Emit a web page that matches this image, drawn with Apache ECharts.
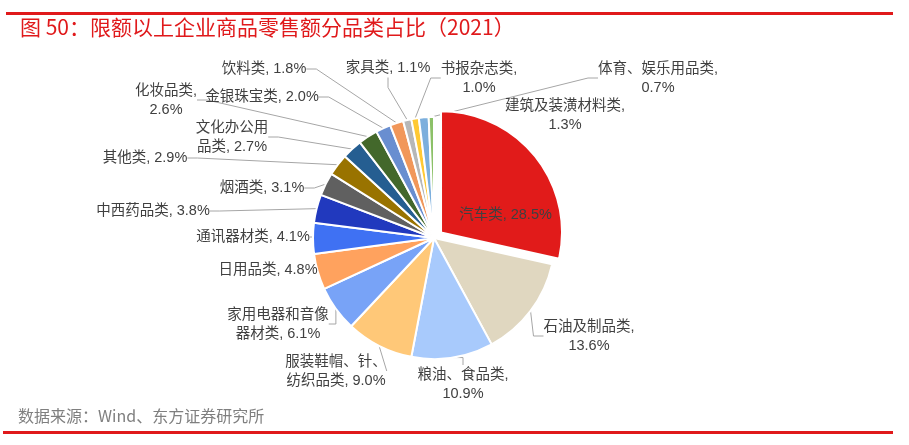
<!DOCTYPE html>
<html>
<head>
<meta charset="utf-8">
<script src="https://cdn.jsdelivr.net/npm/echarts@6/dist/echarts.min.js"></script>
<style>
  html, body { margin: 0; padding: 0; background: #fff; }
  #main { width: 909px; height: 445px; }
</style>
</head>
<body>
<div id="main"></div>
<script>
const chart = echarts.init(document.getElementById('main'));

// 品类与占比（%）
const categories = ['汽车类', '石油及制品类', '粮油、食品类', '服装鞋帽、针、纺织品类', '家用电器和音像器材类',
    '日用品类', '通讯器材类', '中西药品类', '烟酒类', '其他类', '文化办公用品类', '化妆品类',
    '金银珠宝类', '饮料类', '家具类', '书报杂志类', '建筑及装潢材料类', '体育、娱乐用品类'];
const shares = [28.5, 13.6, 10.9, 9.0, 6.1, 4.8, 4.1, 3.8, 3.1, 2.9, 2.7, 2.6, 2.0, 1.8, 1.1, 1.0, 1.3, 0.7];
// 标签换行
const labelTexts = ['汽车类, 28.5%', '石油及制品类,\n13.6%', '粮油、食品类,\n10.9%', '服装鞋帽、针、\n纺织品类, 9.0%',
    '家用电器和音像\n器材类, 6.1%', '日用品类, 4.8%', '通讯器材类, 4.1%', '中西药品类, 3.8%', '烟酒类, 3.1%',
    '其他类, 2.9%', '文化办公用\n品类, 2.7%', '化妆品类,\n2.6%', '金银珠宝类, 2.0%', '饮料类, 1.8%',
    '家具类, 1.1%', '书报杂志类,\n1.0%', '建筑及装潢材料类,\n1.3%', '体育、娱乐用品类,\n0.7%'];

const colors = ['#E11B1A', '#E0D7C0', '#A8CAFC', '#FFC878', '#78A3F7', '#FFA25E', '#3F71F3', '#2139BE',
    '#606060', '#997300', '#255E91', '#43682B', '#698ED0', '#F1975A', '#B7B7B7', '#FFC933', '#7CAFDD', '#8CC168'];

// 标签中心位置
const labelPos = [[502, 213], [589, 336], [463, 384], [336, 371], [278, 324], [268, 270], [253, 237],
    [153, 211], [262, 188], [145, 158], [232, 137], [166, 100], [262, 97], [264, 69], [388, 68],
    [479, 78], [565, 115], [658, 78]];

let pieData = [];
for (let i = 0; i < categories.length; i++) {
    let item = {
        name: categories[i],
        value: shares[i],
        itemStyle: { color: colors[i] }
    };
    if (i === 0) {
        // 汽车类扇区外移，标签放在扇区内
        item.selected = true;
        item.label = { position: 'inside', offset: [4, 30] };
        item.select = { label: { position: 'inside', offset: [4, 30] } };
        item.labelLine = { show: false };
    }
    if (i === 16) {
        item.labelLine = { show: false };
    }
    pieData.push(item);
}

option = {
    animation: false,
    title: {
        text: '图 50：限额以上企业商品零售额分品类占比（2021）',
        left: 15,
        top: 12,
        textStyle: {
            color: '#E0191B',
            fontSize: 21,
            fontWeight: 'normal',
            fontFamily: 'Noto Sans CJK SC'
        }
    },
    graphic: [
        { type: 'rect', left: 6, top: 12, shape: { width: 887, height: 3 }, style: { fill: '#E0191B' } },
        { type: 'rect', left: 3, top: 431, shape: { width: 890, height: 3 }, style: { fill: '#E0191B' } },
        {
            type: 'text', left: 18, top: 408,
            style: {
                text: '数据来源：Wind、东方证券研究所',
                fill: '#7F7F7F',
                font: '16px "Noto Sans CJK SC"'
            }
        }
    ],
    series: [{
        type: 'pie',
        center: [434, 238],
        radius: 121,
        startAngle: 90,
        clockwise: true,
        selectedMode: 'single',
        selectedOffset: 9,
        avoidLabelOverlap: false,
        itemStyle: {
            borderColor: '#fff',
            borderWidth: 2
        },
        label: {
            show: true,
            position: 'outside',
            color: '#404040',
            fontSize: 14.5,
            lineHeight: 19,
            fontFamily: 'Liberation Sans, Noto Sans CJK SC',
            formatter: function (p) {
                return labelTexts[p.dataIndex];
            }
        },
        labelLine: {
            show: true,
            length: 10,
            length2: 10,
            lineStyle: { color: '#A6A6A6', width: 1 }
        },
        labelLayout: function (params) {
            let p = labelPos[params.dataIndex];
            return {
                x: p[0],
                y: p[1],
                align: 'center',
                verticalAlign: 'middle'
            };
        },
        emphasis: { disabled: true },
        data: pieData
    }]
};
chart.setOption(option);
</script>
</body>
</html>
